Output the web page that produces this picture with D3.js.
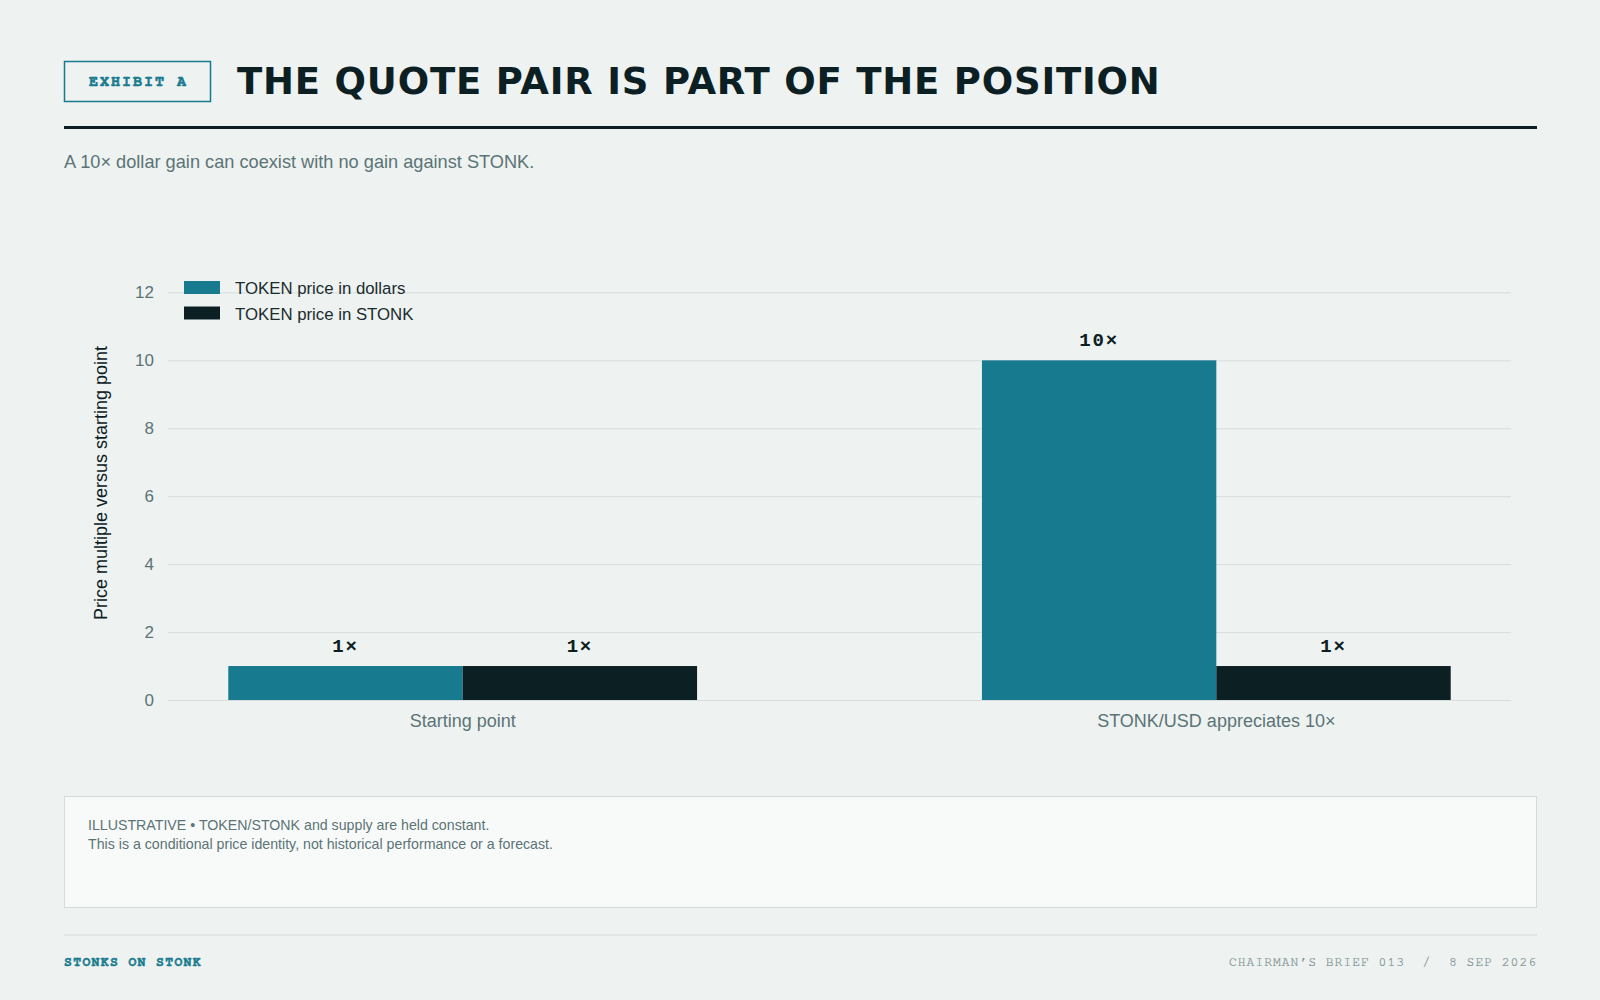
<!DOCTYPE html>
<html>
<head>
<meta charset="utf-8">
<script src="https://cdn.jsdelivr.net/npm/d3@7"></script>
<style>
  html, body { margin: 0; padding: 0; background: #eef2f1; }
  svg { display: block; }
</style>
</head>
<body>
<svg id="chart" width="1600" height="1000"></svg>
<script>
// ---- data ----
const categories = ["Starting point", "STONK/USD appreciates 10\u00d7"];
const seriesNames = ["TOKEN price in dollars", "TOKEN price in STONK"];
const dollarValues = [1, 10];
const stonkValues = [1, 1];
const yTicks = [0, 2, 4, 6, 8, 10, 12];

(function () {
const TEAL = "#177a8f";
const DARK = "#0c2024";
const MUTED = "#5b7476";
const GRID = "#d5dedd";
const MONO = "'Nimbus Mono PS', 'Nimbus Mono L', FreeMono, Courier, 'Courier New', monospace";
const CODE = "'Liberation Mono', Cousine, monospace";
const SANS = "'Helvetica Neue', Helvetica, 'Nimbus Sans', 'Nimbus Sans L', Arial, sans-serif";

const svg = d3.select("#chart");
svg.append("rect").attr("width", 1600).attr("height", 1000).attr("fill", "#eef2f1");

// ---- header ----
svg.append("rect").attr("x", 64.5).attr("y", 61.5).attr("width", 146).attr("height", 40)
  .attr("fill", "none").attr("stroke", TEAL).attr("stroke-width", 1.5);
svg.append("text").attr("x", 138.5).attr("y", 85.5).attr("text-anchor", "middle")
  .attr("font-family", MONO).attr("font-weight", "bold").attr("font-size", 15)
  .attr("letter-spacing", 2).attr("fill", TEAL).attr("stroke", TEAL).attr("stroke-width", 0.6)
  .text("EXHIBIT A");
svg.append("text").attr("x", 237).attr("y", 93.5)
  .attr("font-family", "'DejaVu Sans', sans-serif").attr("font-weight", "bold").attr("font-size", 37)
  .attr("letter-spacing", 0.8).attr("fill", DARK).text("THE QUOTE PAIR IS PART OF THE POSITION");
svg.append("rect").attr("x", 64).attr("y", 126).attr("width", 1473).attr("height", 3).attr("fill", DARK);
svg.append("text").attr("x", 64).attr("y", 168)
  .attr("font-family", SANS).attr("font-size", 18.2).attr("fill", MUTED)
  .text("A 10\u00d7 dollar gain can coexist with no gain against STONK.");

// ---- chart ----
const pLeft = 168, pRight = 1511, pTop = 292.4, pBottom = 700;
const x0 = d3.scaleBand().domain(categories).range([pLeft, pRight]).paddingInner(0.378).paddingOuter(0.08);
const x1 = d3.scaleBand().domain(seriesNames).range([0, x0.bandwidth()]).padding(0);
const y = d3.scaleLinear().domain([0, 12]).range([pBottom, pTop]);
const color = d3.scaleOrdinal().domain(seriesNames).range([TEAL, DARK]);

const g = svg.append("g");
const yAxis = d3.axisLeft(y).tickValues(yTicks).tickSize(-(pRight - pLeft)).tickPadding(14);
const yg = g.append("g").attr("transform", `translate(${pLeft},0)`).call(yAxis);
yg.select(".domain").remove();
yg.selectAll(".tick line").attr("stroke", GRID).attr("stroke-width", 1);
yg.selectAll(".tick text").attr("font-family", SANS).attr("font-size", 17).attr("fill", MUTED);

const xAxis = d3.axisBottom(x0).tickSize(0).tickPadding(14);
const xg = g.append("g").attr("transform", `translate(0,${pBottom})`).call(xAxis);
xg.select(".domain").remove();
xg.selectAll(".tick text").attr("font-family", SANS).attr("font-size", 18).attr("fill", MUTED);

g.append("text").attr("transform", `translate(107,483) rotate(-90)`).attr("text-anchor", "middle")
  .attr("font-family", SANS).attr("font-size", 18).attr("fill", DARK)
  .text("Price multiple versus starting point");

const rows = categories.map((c, i) => ({ cat: c, vals: [
  { s: seriesNames[0], v: dollarValues[i] },
  { s: seriesNames[1], v: stonkValues[i] }
]}));
const groups = g.selectAll(".grp").data(rows).join("g").attr("class", "grp")
  .attr("transform", d => `translate(${x0(d.cat)},0)`);
groups.selectAll("rect").data(d => d.vals).join("rect")
  .attr("x", d => x1(d.s)).attr("width", x1.bandwidth())
  .attr("y", d => y(d.v)).attr("height", d => y(0) - y(d.v))
  .attr("fill", d => color(d.s));
groups.selectAll("text.val").data(d => d.vals).join("text").attr("class", "val")
  .attr("x", d => x1(d.s) + x1.bandwidth() / 2).attr("y", d => y(d.v) - 14)
  .attr("text-anchor", "middle").attr("font-family", CODE)
  .attr("font-weight", "bold").attr("font-size", 19).attr("letter-spacing", 1.8).attr("fill", DARK)
  .text(d => d.v + "\u00d7");

const lg = svg.append("g").attr("transform", "translate(184,281)");
seriesNames.forEach((s, i) => {
  const row = lg.append("g").attr("transform", `translate(0,${i * 25.5})`);
  row.append("rect").attr("width", 36).attr("height", 13).attr("fill", color(s));
  row.append("text").attr("x", 51).attr("y", 13).attr("font-family", SANS)
    .attr("font-size", 16.8).attr("fill", "#1b2b2e").text(s);
});

// ---- note box ----
svg.append("rect").attr("x", 64.5).attr("y", 796.5).attr("width", 1472).attr("height", 111)
  .attr("fill", "#f8faf9").attr("stroke", "#d3dcdb").attr("stroke-width", 1);
svg.append("text").attr("x", 88).attr("y", 830).attr("font-family", SANS).attr("font-size", 14.2)
  .attr("fill", MUTED).text("ILLUSTRATIVE \u2022 TOKEN/STONK and supply are held constant.");
svg.append("text").attr("x", 88).attr("y", 849).attr("font-family", SANS).attr("font-size", 14.2)
  .attr("fill", MUTED).text("This is a conditional price identity, not historical performance or a forecast.");

// ---- footer ----
svg.append("rect").attr("x", 64).attr("y", 934.5).attr("width", 1473).attr("height", 1).attr("fill", "#d3dcdb");
svg.append("text").attr("x", 64).attr("y", 966).attr("font-family", MONO).attr("font-weight", "bold")
  .attr("font-size", 13).attr("letter-spacing", 1.4).attr("fill", TEAL)
  .attr("stroke", TEAL).attr("stroke-width", 0.5).text("STONKS ON STONK");
svg.append("text").attr("x", 1537).attr("y", 966).attr("text-anchor", "end").attr("font-family", MONO)
  .attr("font-size", 13).attr("letter-spacing", 1).attr("fill", "#7a8e90")
  .attr("stroke", "#7a8e90").attr("stroke-width", 0.2)
  .style("white-space", "pre")
  .text("CHAIRMAN\u2019S BRIEF 013  /  8 SEP 2026");
})();
</script>
</body>
</html>
